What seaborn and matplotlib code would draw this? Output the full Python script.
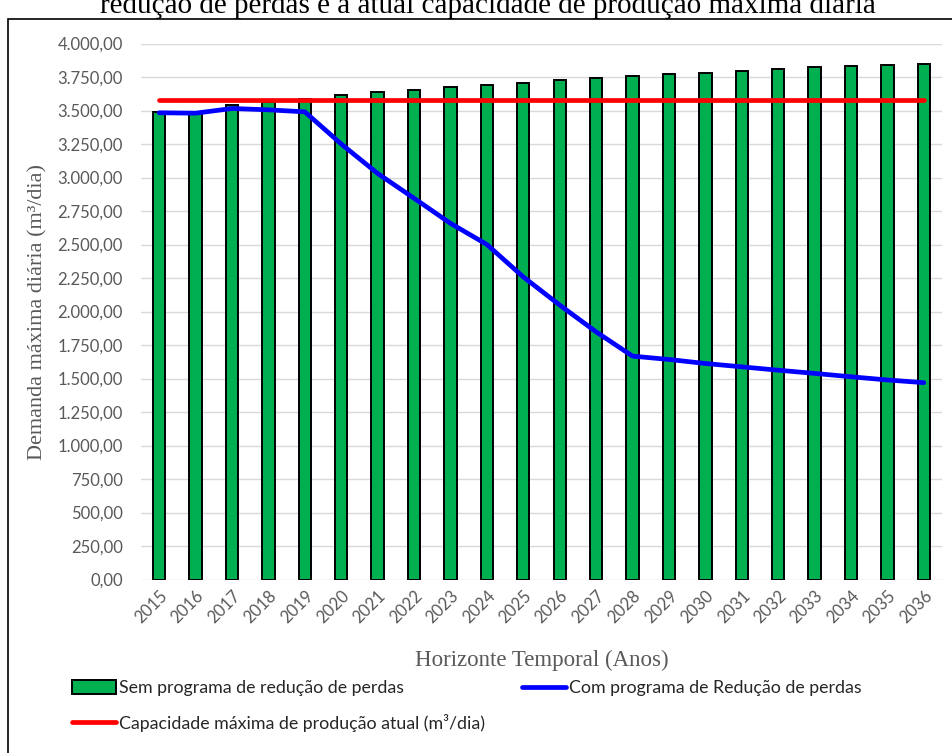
import matplotlib
matplotlib.use("Agg")
import matplotlib.pyplot as plt
from matplotlib.patches import Patch, Rectangle
from matplotlib.lines import Line2D
from matplotlib.ticker import FuncFormatter, MultipleLocator
import numpy as np
import pandas as pd
import seaborn as sns

# Horizonte temporal
anos = [str(a) for a in range(2015, 2037)]

# Demanda máxima diária sem programa de redução de perdas (m³/dia)
sem_programa = [3487, 3478, 3541, 3561, 3588, 3616, 3637, 3652, 3675, 3692,
                3706, 3727, 3742, 3760, 3775, 3782, 3797, 3812, 3822, 3830,
                3842, 3850]

# Demanda máxima diária com programa de redução de perdas (m³/dia)
com_programa = [3483, 3480, 3515, 3505, 3490, 3250, 3030, 2845, 2658, 2500,
                2258, 2048, 1848, 1667, 1642, 1612, 1587, 1562, 1538, 1513,
                1489, 1469]

# Capacidade máxima de produção atual (m³/dia)
capacidade_atual = 3580

labels_legenda = ["Sem programa de redução de perdas",
                  "Com programa de Redução de perdas",
                  "Capacidade máxima de produção atual (m³/dia)"]

VERDE = "#00B050"
AZUL = "#0000FF"
VERMELHO = "#FF0000"
CINZA = "#595959"

sns.set_style("white")
plt.rcParams["font.family"] = ["Lato", "DejaVu Sans"]

W, H = 952, 753
fig = plt.figure(figsize=(W / 100, H / 100), dpi=100)
ax = fig.add_axes([141 / W, 1 - 579.5 / H, (942 - 141) / W, (579.5 - 43.5) / H])

df = pd.DataFrame({"ano": anos, "sem": sem_programa, "com": com_programa,
                   "cap": [capacidade_atual] * len(anos)})
df["pos"] = np.arange(len(anos))

sns.barplot(data=df, x="ano", y="sem", color=VERDE, edgecolor="black",
            linewidth=1.4, width=0.34, saturation=1, ax=ax, zorder=2)
sns.lineplot(data=df, x="pos", y="com", color=AZUL, linewidth=3.4, ax=ax,
             zorder=3, solid_capstyle="round")
sns.lineplot(data=df, x="pos", y="cap", color=VERMELHO, linewidth=3.4, ax=ax,
             zorder=3, solid_capstyle="round")

ax.set_xlim(-0.5, len(anos) - 0.5)
ax.set_ylim(0, 4000)
ax.yaxis.set_major_locator(MultipleLocator(250))


def fmt_br(v, _):
    s = f"{v:,.2f}"
    return s.replace(",", "X").replace(".", ",").replace("X", ".")


ax.yaxis.set_major_formatter(FuncFormatter(fmt_br))
ax.grid(axis="y", color="#D9D9D9", linewidth=1.0, zorder=0)
ax.set_axisbelow(True)
for sp in ax.spines.values():
    sp.set_visible(False)

ax.tick_params(axis="y", length=0, pad=13, labelsize=12, labelcolor=CINZA)
ax.tick_params(axis="x", length=0, pad=6, labelsize=12, labelcolor=CINZA)
ax.set_xticks(range(len(anos)))
ax.set_xticklabels(anos, rotation=45, ha="right", rotation_mode="anchor")

ax.set_xlabel("Horizonte Temporal (Anos)", family="Liberation Serif",
              fontsize=16.5, color=CINZA, labelpad=17)
ax.set_ylabel("Demanda máxima diária (m³/dia)", family="Liberation Serif",
              fontsize=16, color=CINZA, labelpad=7)

fig.text(0.513, 1 - 13 / H, "redução de perdas e a atual capacidade de produção máxima diária",
         family="Liberation Serif", fontsize=21, color="black",
         ha="center", va="baseline")

# moldura do gráfico
fig.patches.append(Rectangle((8 / W, -0.1), 1.2, 1 - 19 / H + 0.1,
                             transform=fig.transFigure, fill=False,
                             edgecolor="black", linewidth=1.2))

handles = [Patch(facecolor=VERDE, edgecolor="black", linewidth=1.4),
           Line2D([], [], color=VERMELHO, linewidth=3.4, solid_capstyle="round"),
           Line2D([], [], color=AZUL, linewidth=3.4, solid_capstyle="round")]
labels = [labels_legenda[0], labels_legenda[2], labels_legenda[1]]
fig.legend(handles, labels, ncol=2, loc="upper left",
           bbox_to_anchor=(72 / W, 1 - 680 / H), frameon=False,
           prop={"family": ["Lato"], "size": 12.8},
           labelcolor="#262626", handlelength=2.5, handleheight=0.8,
           handletextpad=0.15, columnspacing=2.05, labelspacing=1.0,
           borderpad=0, borderaxespad=0)

fig.savefig("out.png", dpi=100)
